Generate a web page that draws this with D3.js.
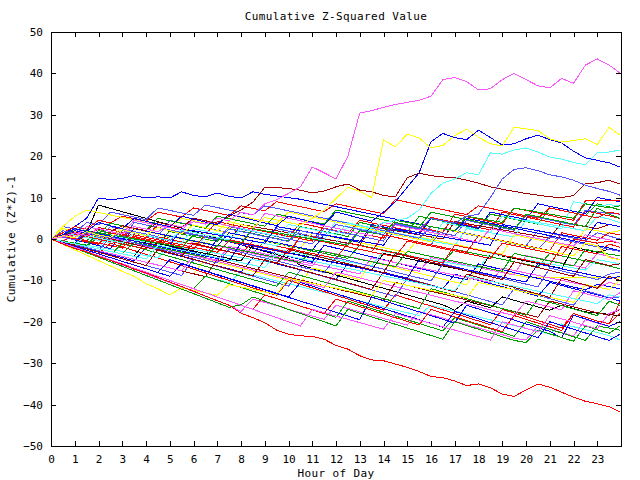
<!DOCTYPE html>
<html><head><meta charset="utf-8">
<script src="https://cdn.jsdelivr.net/npm/d3@7/dist/d3.min.js"></script>
<style>body{margin:0;background:#fff}svg{display:block}</style>
</head><body><svg id="c" width="640" height="480"></svg>
<script>
// ---- data ----
const hours = [0,0.5,1,1.5,2,2.5,3, 3.5,4,4.5,5,5.5,6,6.5, 7,7.5,8,8.5,9,9.5,10,
  10.5,11,11.5,12,12.5,13,13.5, 14,14.5,15,15.5,16,16.5,17, 17.5,18,18.5,19,19.5,20,20.5,
  21,21.5,22,22.5,23,23.5,23.95];
const xTickValues = [0,1,2,3,4,5,6,7,8,9,10,11,12,13,14,15,16,17,18,19,20,21,22,23];
const yTickValues = [-50,-40,-30,-20,-10,0,10,20,30,40,50];
const titleText = "Cumulative Z-Squared Value";
const xLabel = "Hour of Day";
const yLabel = "Cumulative (Z*Z)-1";

const RED="#ff0000", GRN="#00a000", BLU="#0000ff", MAG="#ff55ff", CYN="#55ffff",
      DKR="#a00000", YEL="#ffff00", BLK="#000000", PER="#5555ff";

// background series
const b1 = [0,-0.6,-1.2,-1.8,0.5,-0.1,-0.7, -1.3,-1.9,-2.5,0.8,0.2,-0.4,-1, -1.6,-2.2,-2.8,-3.4,-0.5,-1.1,-1.7, -2.3,-2.9,-3.5,-4.1,-4.7,-1.5,-2.1, -2.7,-3.3,-3.9,-4.5,-5.1,-5.7,-2.5, -3.1,-3.7,-4.3,-4.9,-5.5,-6.1,-6.7, -3.5,-4.1,-4.7,-5.3,-5.9,-6.5,-7.2];
const b2 = [0,-0.8,-1.5,-2.3,-3,-3.8,-4.5, -5.3,-2,-2.7,-3.5,-4.2,-5,-5.7, -6.5,-7.2,-8,-4.5,-5.2,-6,-6.7, -7.5,-8.2,-9,-9.7,-6,-6.8,-7.5, -8.3,-9,-9.8,-10.5,-11.3,-12,-8.5, -9.3,-10,-10.8,-11.5,-12.3,-13,-13.8, -10.5,-11.2,-12,-12.7,-13.5,-14.2,-15];
const b3 = [0,1.5,0.9,0.3,2.8,2.2,1.6, 1,0.4,3.5,2.9,2.3,1.7,1.1, 4.2,3.6,3,2.4,1.8,1.2,0.6, 3.8,3.2,2.6,2,1.4,4.5,3.9, 3.3,2.7,2.1,1.5,5.2,4.6,4, 3.4,2.8,2.2,6.5,5.9,5.3,4.7, 4.1,3.5,2.9,6.8,6.2,5.6,5];
const b4 = [0,-1,-2.1,-3.2,-4.2,-5.2,-6.3, -7.3,-8.4,-9.5,-10.5,-11.6,-12.7,-13.8, -14.9,-16,-17.5,-14.5,-15.3,-16.1,-17, -17.8,-18.6,-19.4,-16,-16.8,-17.6,-18.4, -19.2,-20,-20.8,-17.5,-18.3,-19.1,-19.9, -20.7,-21.5,-22.3,-23.1,-24,-24.4,-21, -21.8,-22.6,-23.4,-19.5,-20.3,-21.1,-20];
const b5 = [0,-0.7,-1.4,-2.1,-2.8,-3.5,-4.2, -4.9,-5.6,-6.3,-7,-7.7,-8.4,-9.1, -9.8,-10.5,-8,-8.7,-9.4,-10.1,-10.8, -11.5,-12.2,-12.9,-13.6,-14.3,-15,-15.7, -16.4,-17.1,-17.8,-18.5,-16,-16.7,-17.4, -18.1,-18.8,-19.5,-20.2,-20.9,-21.6,-22.3, -23,-20.5,-21.2,-21.9,-22.6,-23.3,-24.4];
const b6 = [0,0.5,1,1.5,8.2,7.4,6.6, 5.8,5,4.2,3.4,2.6,1.8,1, 0.2,-0.6,-1.4,-2.2,-3,-3.8,-4.6, -6.3,-7.1,-7.9,-8.7,-9.5,-10.3,-11.1, -11.9,-12.7,-13.5,-14.3,-15.1,-15.9,-17.2, -15,-15.8,-16.6,-14,-14.8,-15.6,-16.4, -17.2,-16,-16.8,-17.6,-17.9,-18.2,-18.6];
const b7 = [0,2,1.4,0.8,0.2,3,2.4, 1.8,1.2,0.6,4.5,3.9,3.3,2.7, 2.1,1.5,0.9,0.3,-0.3,2.5,1.9, 1.3,0.7,0.1,-0.5,-1.1,2.2,1.6, 1,0.4,-0.2,-0.8,-1.4,2.6,2, 1.4,0.8,0.2,-0.4,-1,-1.6,2, 1.4,0.8,0.2,-0.4,1.5,0.7,0];
const b8 = [0,-0.5,-1,1.5,1,0.5,0, -0.5,-1,-1.5,2,1.5,1,0.5, 0,-0.5,3.5,3,2.5,2,1.5, 1,0.5,0,-0.5,-1,-1.5,3, 2.5,2,1.5,1,0.5,0,4.2, 3.7,3.2,2.7,2.2,1.7,1.2,0.7, 0.2,4,3.5,3,2.5,3.5,3];
const b9 = [0,-0.7,-1.4,-2.1,-2.8,-3.5,-4.2, -4.9,-5.6,-6.3,-7,-7.7,-8.4,-5, -5.7,-6.4,-7.1,-7.8,-8.5,-9.2,-9.9, -10.6,-7,-7.7,-8.4,-9.1,-9.8,-5.5, -6.2,-6.9,-7.6,-8.3,-9,-9.7,-10.4, -11.1,-6.5,-7.2,-7.9,-8.6,-9.2,-9.2, -9.2,-9.2,-9.2,-9.2,-9.2,-9.2,-9.2];
const b10 = [0,0.8,0.2,-0.4,2,1.4,0.8, 0.2,-0.4,-1,1.8,1.2,0.6,0, -0.6,2.5,1.9,1.3,0.7,0.1,-0.5, 3,2.4,1.8,1.2,0.6,4,3.4, 2.8,2.2,1.6,5.5,4.9,4.3,3.7, 3.1,2.5,6,5.4,4.8,4.2,3.6, 7.5,6.9,6.3,5.7,8.5,7.8,7];
const b11 = [0,0.5,-0.2,-0.9,-1.6,-2.3,1, 0.3,-0.4,-1.1,-1.8,-2.5,-3.2,-3.9, 0,-0.7,-1.4,-2.1,-2.8,-3.5,-4.2, -4.9,-5.6,-1.5,-2.2,-2.9,-3.6,-4.3, -5,-5.7,-6.4,-7.1,-7.8,-8.5,-9.2, -9.9,-6,-6.7,-7.4,-8.1,-8.8,-9.5, -10.2,-10.9,-11.6,-12.3,-11,-11.5,-12];
const b12 = [0,-0.9,-1.8,-2.7,-3.6,-1,-1.9, -2.8,-3.7,-4.6,-5.5,-6.4,-7.3,-8.2, -9.1,-10,-10.9,-11.8,-12.7,-13.6,-10, -10.9,-11.8,-12.7,-13.6,-14.5,-15.4,-16.3, -17.2,-13.5,-14.4,-15.3,-16.2,-17.1,-18, -18.9,-19.8,-20.7,-17,-17.9,-18.8,-19.7, -20.6,-21.5,-18,-18.9,-19.8,-20.5,-15.2];
const b13 = [0,-0.6,1.8,1.2,0.6,0,-0.6, -1.2,-1.8,-2.4,-3,-3.6,-0.5,-1.1, -1.7,-2.3,-2.9,-3.5,-4.1,-4.7,-5.3, -5.9,-6.5,-3,-3.6,-4.2,-4.8,-5.4, -6,-6.6,-7.2,-7.8,-4.5,-5.1,-5.7, -6.3,-6.9,-7.5,-8.1,-8.7,-4,-4.6, -5.2,-5.8,-6.4,-7,-3.5,-4.2,-5];
const b14 = [0,-0.5,-1,-1.5,-2,0.8,0.3, -0.2,-0.7,-1.2,-1.7,-2.2,-2.7,0.5, 0,-0.5,-1,-1.5,-2,-2.5,-3, 0.5,0,-0.5,-1,3,2.5,2, 1.5,1,0.5,0,-0.5,-1,-1.5, 2.5,2,1.5,1,0.5,4.5,4, 3.5,3,2.5,2,5.5,4.8,4];
const b15 = [0,-0.6,-1.2,-1.8,-2.4,-3,-3.6, -4.2,-0.5,-1.1,-1.7,-2.3,-2.9,-3.5, -4.1,-4.7,-5.3,-1.5,-2.1,-2.7,-3.3, -3.9,-4.5,-5.1,-5.7,-6.3,-6.9,-7.5, -3.5,-4.1,-4.7,-5.3,-5.9,-6.5,-7.1, -7.7,-8.3,-3.5,-4.1,-4.7,-5.3,-5.9, -6.5,-7.1,-2,-2.6,-3.2,-2.5,-3];
const b16 = [0,-0.8,-1.6,-2.4,-3.2,-4,-4.8, -5.6,-6.4,-7.2,-8,-8.8,-5,-5.8, -6.6,-7.4,-8.2,-9,-9.8,-10.6,-11.4, -7.5,-8.3,-9.1,-9.9,-10.7,-11.5,-12.3, -13.1,-13.9,-9.5,-10.3,-11.1,-11.9,-12.7, -13.5,-14.3,-15.1,-15.9,-12,-12.8,-13.6, -14.4,-15.2,-16,-12.5,-13.3,-14.1,-14];
const b17 = [0,-0.7,-1.4,-2.1,-2.8,-3.5,-4.2, -4.9,-5.6,-6.3,-7,-7.7,-8.4,-9.1, -5,-5.7,-6.4,-7.1,-7.8,-8.5,-9.2, -9.9,-10.6,-11.3,-12,-12.7,-13.4,-14.1, -14.8,-10.5,-11.2,-11.9,-12.6,-13.3,-14, -14.7,-15.4,-16.1,-16.8,-17.5,-18.2,-18.9, -15,-15.7,-16.4,-17.1,-17.8,-18.5,-17];
const b18 = [0,2.5,1.9,1.3,0.7,0.1,3, 2.4,1.8,1.2,0.6,0,-0.6,-1.2, 2,1.4,0.8,0.2,-0.4,-1,-1.6, -2.2,1.5,0.9,0.3,-0.3,-0.9,-1.5, -2.1,-2.7,-3.3,0.5,-0.1,-0.7,-1.3, -1.9,-2.5,-3.1,-3.7,1,0.4,-0.2, -0.8,-1.4,-2,2.5,2,1.5,2];
const b19 = [0,-1,-2,-3,-4,-5,-6, -7,-8,-9,-10,-11,-12,-9, -9.9,-10.8,-11.7,-12.6,-13.5,-14.4,-15.3, -16.2,-17.1,-18,-18.9,-15,-15.9,-16.8, -17.7,-18.6,-19.5,-20.4,-21.3,-22.2,-19, -19.9,-20.8,-21.7,-22.6,-23.5,-20,-20.9, -21.8,-22.7,-23.6,-24.5,-21,-21.5,-22];
const b20 = [0,1,2,1.4,0.8,0.2,-0.4, 2.5,1.9,1.3,0.7,0.1,-0.5,-1.1, -1.7,1.5,0.9,0.3,-0.3,-0.9,-1.5, -2.1,-2.7,1,0.4,-0.2,-0.8,3.5, 2.9,2.3,1.7,1.1,5,4.4,3.8, 3.2,2.6,6.5,5.9,5.3,4.7,8.5, 7.9,7.3,6.7,6.1,10,9.5,9];
const b21 = [0,0.5,-0.1,-0.7,-1.3,1.5,0.9, 0.3,-0.3,-0.9,-1.5,-2.1,1.2,0.6, 0,-0.6,-1.2,2.5,1.9,1.3,0.7, 0.1,-0.5,3.2,2.6,2,1.4,0.8, 0.2,4,3.4,2.8,2.2,1.6,6, 5.4,4.8,4.2,3.6,7.5,6.9,6.3, 5.7,5.1,4.5,9.2,9.2,9.2,9.2];
const b22 = [0,-0.6,-1.2,1.5,0.9,0.3,-0.3, -0.9,-1.5,-2.1,-2.7,-3.3,-3.9,-4.5, -5.1,-1.8,-2.4,-3,-3.6,-4.2,-4.8, -5.4,-6,-6.6,-7.2,-7.8,-8.4,-4.5, -5.1,-5.7,-6.3,-6.9,-7.5,-8.1,-8.7, -9.3,-9.9,-10.5,-7,-7.6,-8.2,-8.8, -9.4,-10,-10.6,-11.2,-11.8,-10.5,-11];
const b23 = [0,-0.5,-1,-1.5,-2,-2.5,-3, -3.5,-4,-4.5,-1.5,-2,-2.5,-3, -3.5,-4,-4.5,-5,-5.5,-2.5,-3, -3.5,-4,-4.5,-5,-5.5,-6,-6.5, -3,-3.5,-4,-4.5,-5,-5.5,-6, -6.5,-7,-3.5,-4,-4.5,-5,-5.5, -6,-6.5,-7,-7.5,-5,-5.5,-6];
const b24 = [0,0.8,0.2,-0.4,-1,-1.6,-2.2, 1,0.4,-0.2,-0.8,-1.4,-2,-2.6, -3.2,-0.5,-1.1,-1.7,-2.3,-2.9,-3.5, 0.5,-0.1,-0.7,-1.3,-1.9,-2.5,-3.1, -3.7,-4.3,-0.5,-1.1,-1.7,-2.3,-2.9, -3.5,-4.1,-4.7,-1,-1.6,-2.2,-2.8, -3.4,-4,0,-0.5,-1,-0.5,-1];
const b25 = [0,3,2.4,1.8,1.2,0.6,0, 4,3.4,2.8,2.2,1.6,1,0.4, -0.2,3,2.4,1.8,1.2,0.6,0, -0.6,-1.2,2.5,1.9,1.3,0.7,0.1, -0.5,3.8,3.2,2.6,2,1.4,0.8, 4.5,3.9,3.3,2.7,2.1,5.8,5.2, 4.6,4,3.4,7,6.5,6.2,6];
const b26 = [0,-0.8,-1.6,-2.4,-3.2,-4,-1, -1.8,-2.6,-3.4,-4.2,-5,-5.8,-6.6, -7.4,-8.2,-9,-9.8,-10.6,-11.4,-8, -8.8,-9.6,-10.4,-11.2,-12,-12.8,-13.6, -14.4,-15.2,-16,-16.8,-12,-12.8,-13.6, -14.4,-15.2,-16,-16.8,-17.6,-18.4,-14.5, -15.3,-16.1,-16.9,-17.7,-18.5,-15,-16];
const b27 = [0,-0.9,-1.8,-2.7,-3.6,-4.5,-5.4, -6.3,-7.2,-8.1,-9,-6,-6.9,-7.8, -8.7,-9.6,-10.5,-11.4,-12.3,-13.2,-14.1, -15,-15.9,-16.8,-17.7,-18.6,-19.5,-14, -14.9,-15.8,-16.7,-17.6,-18.5,-19.4,-20.3, -16,-16.9,-17.8,-18.7,-19.6,-20.5,-21.4, -22.3,-23.9,-18.4,-19.3,-20.2,-21.1,-20];
const b28 = [0,-0.6,1.2,0.6,0,-0.6,-1.2, -1.8,-2.4,0.5,-0.1,-0.7,-1.3,-1.9, -2.5,-3.1,-3.7,-0.5,-1.1,-1.7,-2.3, -2.9,-3.5,-4.1,-4.7,-1,-1.6,-2.2, -2.8,-3.4,-4,-4.6,-5.2,-5.8,-1.5, -2.1,-2.7,-3.3,-3.9,-4.5,-5.1,-5.7, -6.3,-1.8,-2.4,-3,-3.6,-1.2,-2];
const b29 = [0,-0.7,-1.4,-2.1,-2.8,-3.5,-4.2, -4.9,-5.6,-6.3,-7,-7.7,-4,-4.7, -5.4,-6.1,-6.8,-7.5,-8.2,-8.9,-9.6, -10.3,-11,-11.7,-8,-8.7,-9.4,-10.1, -10.8,-11.5,-12.2,-12.9,-13.6,-14.3,-15, -15.7,-16.4,-17.1,-17.8,-18.5,-15,-15.7, -16.4,-17.1,-12.5,-13.2,-13.9,-14.6,-13];
const b30 = [0,1.5,0.9,0.3,-0.3,-0.9,2, 1.4,0.8,0.2,-0.4,-1,2.5,1.9, 1.3,0.7,0.1,-0.5,-1.1,-1.7,1.5, 0.9,0.3,-0.3,4.5,3.9,3.3,2.7, 2.1,1.5,0.9,0.3,-0.3,4,3.4, 2.8,2.2,1.6,5.5,4.9,4.3,3.7, 3.1,2.5,9,8.5,8,8.3,8];
const b31 = [0,1,3,5,9.9,9.5,9.8, 10.5,9.9,10.2,9.9,11.4,10.5,10.2, 11.1,10.3,9.9,11.4,10.8,10.4,10, 9.6,9,8.4,7.8,7.2,6.6,6, 5.4,4.8,4.2,3.6,3,2.4,1.8, 5,4.4,3.8,3.2,2.6,2,1.4, 0.8,0.2,-0.4,-1,-1.6,-2.2,-2.8];
const b32 = [0,-1,-2,-3,-4,-5,-6, -7,-8,-9,-10,-11,-12,-13, -14,-15,-16,-17,-13.5,-14.4,-15.3, -16.2,-17.1,-18,-14.5,-15.4,-16.3,-17.2, -18.1,-19,-19.9,-20.8,-17,-17.9,-18.8, -19.7,-20.6,-21.5,-22.4,-18.5,-19.4,-20.3, -21.2,-22.1,-18,-18.9,-19.8,-20.5,-18];
const b33 = [0,-1.3,-2.6,-3.9,-5.2,-6.5,-7.8, -9,-10.8,-12,-13.5,-11.8,-12.4,-13, -13.6,-11,-11.6,-12.2,-12.8,-13.4,-9.5, -10.1,-10.7,-11.3,-11.9,-12.5,-13.1,-13.7, -10,-10.6,-11.2,-11.8,-12.4,-13,-13.6, -14.2,-10.5,-11.1,-11.7,-12.3,-12.9,-13.5, -14.1,-14.7,-15.3,-11,-11.6,-12.2,-10];
const b34 = [0,-1.1,-2.2,-3.3,-4.4,-5.5,-6.6, -7.7,-8.8,-9.9,-11,-12.1,-13.2,-14.3, -15.4,-16.5,-15.9,-14,-15,-16,-17, -18,-19,-20,-21,-17,-17.9,-18.8, -19.7,-20.6,-21.5,-22.4,-23.3,-24.2,-20, -20.9,-21.8,-22.7,-23.6,-24.5,-25,-22, -22.9,-23.8,-24.7,-21,-21.9,-22.8,-21];
const b35 = [0,-0.5,-1,2,1.5,1,0.5, 0,-0.5,-1,-1.5,2.5,2,1.5, 1,0.5,0,-0.5,-1,3,2.5, 2,1.5,1,0.5,0,-0.5,-1, -1.5,2.5,2,1.5,1,0.5,0, -0.5,-1,-1.5,3.5,3,2.5,2, 1.5,1,0.5,0,4,3.5,3];
const b36 = [0,-0.6,-1.2,-1.8,-2.4,-3,-3.6, -0.8,-1.4,-2,-2.6,-3.2,-3.8,-4.4, -1.5,-2.1,-2.7,-3.3,-3.9,-4.5,-5.1, -5.7,-2.5,-3.1,-3.7,-4.3,-4.9,-5.5, -6.1,-6.7,-3,-3.6,-4.2,-4.8,-5.4, -6,-6.6,-7.2,-7.8,-3.5,-4.1,-4.7, -5.3,-5.9,-6.5,-2.5,-3.1,-3.7,-4];
const b37 = [0,0.6,0,-0.6,-1.2,1.8,1.2, 0.6,0,-0.6,-1.2,-1.8,-2.4,1, 0.4,-0.2,-0.8,-1.4,-2,-2.6,-3.2, 0.5,-0.1,-0.7,-1.3,-1.9,-2.5,-3.1, 1,0.4,-0.2,-0.8,-1.4,-2,-2.6, -3.2,0.8,0.2,-0.4,-1,-1.6,-2.2, -2.8,1.5,0.9,0.3,-0.3,1.5,1];
const b38 = [0,-0.7,-1.4,-2.1,-2.8,0.5,-0.2, -0.9,-1.6,-2.3,-3,-3.7,-4.4,-5.1, -5.8,-2.5,-3.2,-3.9,-4.6,-5.3,-6, -6.7,-7.4,-8.1,-4.5,-5.2,-5.9,-6.6, -7.3,-8,-8.7,-9.4,-10.1,-6,-6.7, -7.4,-8.1,-8.8,-9.5,-10.2,-10.9,-11.6, -7,-7.7,-8.4,-9.1,-9.8,-8.5,-8];
const b39 = [0,-0.8,-1.6,-2.4,-3.2,-4,-4.8, -5.6,-6.4,-2.5,-3.3,-4.1,-4.9,-5.7, -6.5,-7.3,-8.1,-8.9,-5,-5.8,-6.6, -7.4,-8.2,-9,-9.8,-10.6,-11.4,-12.2, -8,-8.8,-9.6,-10.4,-11.2,-12,-12.8, -8.5,-9.3,-10.1,-10.9,-11.7,-12.5,-13.3, -14.1,-9.5,-10.3,-11.1,-11.9,-9,-10];
const b40 = [0,0.5,2.5,1.9,1.3,0.7,0.1, -0.5,-1.1,-1.7,-2.3,-2.9,-3.5,-4.1, -4.7,-5.3,-1,-1.6,-2.2,-2.8,-3.4, -4,-4.6,-5.2,-5.8,-6.4,-7,-7.6, -8.2,-8.8,-9.4,-5,-5.6,-6.2,-6.8, -7.4,-8,-8.6,-9.2,-9.8,-10.4,-6, -6.6,-7.2,-7.8,-8.4,-9,-9.6,-9];
const b41 = [0,1.5,3,2.4,4.5,3.9,5.5, 4.9,4.3,6.5,5.9,5.3,7.5,6.9, 6.3,5.7,8,7.4,6.8,9,8.4, 7.8,7.2,6.6,8.5,7.9,7.3,6.7, 6.1,9.5,8.9,8.3,7.7,7.1,6.5, 5.9,8,7.4,6.8,6.2,5.6,5, 7.5,6.9,6.3,5.7,5.1,6.5,6];
const b42 = [0,2,1.4,4,3.4,6.5,5.9, 5.3,4.7,7.5,6.9,6.3,5.7,8.2, 7.6,7,6.4,5.8,8,7.4,6.8, 6.2,5.6,5,4.4,3.8,3.2,2.6, 2,1.4,0.8,0.2,3,2.4,1.8, 1.2,0.6,0,-0.6,-1.2,-1.8,-2.4, 0.5,-0.1,-0.7,-1.3,-1.9,-2.5,-3];
const b43 = [0,3,5.5,7,6.4,5.8,5.2, 4.6,4,3.4,2.8,5,4.4,3.8, 3.2,2.6,5.5,4.9,4.3,3.7,6.5, 5.9,5.3,4.7,4.1,3.5,2.9,2.3, 1.7,1.1,0.5,-0.1,-0.7,2.5,1.9, 1.3,0.7,0.1,-0.5,-1.1,-1.7,-2.3, -2.9,-3.5,-4.1,-1,-1.6,-4.5,-5];
const b44 = [0,0.6,2.5,1.9,1.3,3.8,3.2, 2.6,2,5,4.4,3.8,3.2,2.6, 5.5,4.9,4.3,3.7,3.1,6,5.4, 4.8,4.2,3.6,7,6.4,5.8,5.2, 4.6,4,3.4,2.8,6.5,5.9,5.3, 4.7,4.1,3.5,2.9,2.3,6,5.4, 4.8,4.2,3.6,3,7.5,6,5];
const b45 = [0,1,0.4,3,2.4,1.8,1.2, 4.5,3.9,3.3,2.7,2.1,5,4.4, 3.8,3.2,2.6,2,6.2,5.6,5, 4.4,3.8,3.2,2.6,2,1.4,0.8, 4,3.4,2.8,2.2,1.6,1,0.4, -0.2,-0.8,2.5,1.9,1.3,0.7,0.1, -0.5,-1.1,-1.7,1,0.4,-0.2,-1];
const b46 = [0,-0.7,-1.4,1.5,0.8,0.1,-0.6, -1.3,-2,-2.7,-3.4,-4.1,-1,-1.7, -2.4,-3.1,-3.8,-4.5,-5.2,-5.9,-2.5, -3.2,-3.9,-4.6,-5.3,-6,-6.7,-7.4, -8.1,-3.5,-4.2,-4.9,-5.6,-6.3,-7, -7.7,-8.4,-9.1,-9.8,-5.5,-6.2,-6.9, -7.6,-8.3,-9,-5,-5.7,-6.4,-6];
const b47 = [0,-0.9,-1.8,-2.7,-3.6,-4.5,-5.4, -6.3,-7.2,-8.1,-5,-5.9,-6.8,-7.7, -8.6,-9.5,-10.4,-11.3,-12.2,-13.1,-14, -10.5,-11.4,-12.3,-13.2,-14.1,-15,-15.9, -16.8,-17.7,-18.6,-19.5,-20.4,-21.3,-17.5, -18.4,-19.3,-20.2,-21.1,-22,-22.9,-23.8, -20,-20.9,-21.8,-22.7,-23.6,-24.5,-23];
const b48 = [0,-0.6,-1.2,-1.8,-2.4,-3,-3.6, -4.2,-4.8,-1.5,-2.1,-2.7,-3.3,-3.9, -4.5,-5.1,-5.7,-6.3,-6.9,-3.5,-4.1, -4.7,-5.3,-5.9,-6.5,-7.1,-7.7,-8.3, -8.9,-9.5,-10.1,-10.7,-11.3,-11.9,-12.5, -9,-9.6,-10.2,-10.8,-11.4,-12,-12.6, -13.2,-13.8,-14.4,-15,-15.6,-13.5,-14];
const b49 = [0,-1,-2,-3,-4,-5,-6, -7,-8,-9,-10,-11,-12,-13, -14,-15,-16,-17,-18,-19,-20, -21,-17,-17.8,-18.6,-19.4,-20.2,-21, -21.8,-18,-18.8,-19.6,-20.4,-21.2,-22, -22.8,-23.6,-24.4,-20,-20.8,-21.6,-22.4, -18.5,-19.3,-20.1,-20.9,-21.7,-18,-17];
const b50 = [0,-0.5,-1,-1.5,1.5,1,0.5, 0,-0.5,-1,-1.5,-2,1,0.5, 0,-0.5,-1,2.5,2,1.5,1, 0.5,0,-0.5,-1,-1.5,2,1.5, 1,4.5,4,3.5,3,2.5,2, 5.5,5,4.5,4,7.5,7,6.5, 6,5.5,5,8.5,8,7.5,8];

// prominent series
const magentaTop = [0,0.5,1.5,0.8,2.5,1.8,1.2, 3,2.4,1.8,3.5,2.9,4.2,3.6, 5,4.4,6.5,5.8,8.5,9.5,11, 12.6,17.4,16,14.5,20,30.4,31, 31.8,32.5,33,33.5,34.5,38.5,39, 38,36,36.3,38.5,40,38.5,37, 36.5,38.8,37.6,42,43.5,42,40.1];
const redBottom = [0,-1.2,-2.3,-3.1,-4.2,-5.2,-6.1, -7.3,-8.2,-9.3,-10.4,-11.5,-12.6,-13.8, -14.9,-16,-17.9,-19,-20.2,-22,-23, -23.4,-23.5,-24.2,-25.7,-26.6,-28.2,-29.2, -29.4,-30.2,-31,-32,-33.2,-33.5,-34.3, -35.4,-35,-35.9,-37.5,-38,-36.5,-35, -35.8,-37,-38.2,-39.2,-39.8,-40.5,-41.8];
const yellowHigh = [0,0.8,0.3,1.8,1,0.4,2.2, 1.5,0.8,2.8,2,1.3,3.4,2.7, 2,4.2,3.5,2.8,5.2,4.6,4, 3.4,5,7,9.8,12.5,11.5,10, 23.9,22.3,25.3,24.4,22,22.6,25, 26.5,24.6,23,22.5,27,26.6,26.2, 24.2,23.4,23.8,24.2,22.8,27,25.1];
const blueHigh = [0,1,2.5,1.8,4,3.2,2.5, 5,4.3,3.6,2.9,5.5,4.8,4.1, 3.4,6,5.3,4.6,3.9,3.2,5.5, 4.8,4.1,3.4,6.5,5.8,5,4.3, 6.5,9,12.5,16,23.5,25.5,24.5, 24,26.3,24.5,22.7,23,24.2,25.1, 24,23.2,21.2,19.6,19,18.4,17.4];
const cyanHigh = [0,-0.6,-1.2,0.8,0.2,-0.4,-1, 1.5,0.9,0.3,-0.3,2.2,1.6,1, 0.4,-0.2,2.5,1.9,1.3,0.7,3.5, 2.9,2.3,1.7,1.1,3.8,3.2,2.6, 4,4.5,5,7,11,13.5,14.5, 16,15.5,20.8,20.5,21.5,22,21, 19.8,19.3,18.5,17.9,20.8,21,21.5];
const periwinkleHigh = [0,0.5,-0.2,1.5,0.8,0.2,2, 1.4,0.8,0.2,-0.4,1.8,1.2,0.6, 0,2.4,1.8,1.2,0.6,0,-0.6, 2,1.4,0.8,3.5,2.9,2.3,1.7, 1.1,3.6,3,2.4,5,4.4,3.8, 5.5,6,10,14.5,16.8,17.2,16.5, 15.5,15,14.2,13,12.2,11.5,10.6];
const darkRedHigh = [0,0.8,1.6,1,2.4,1.8,3.2, 2.6,2,4,3.4,2.8,5,4.4, 3.8,5.5,7,8.9,12.5,12.4,12.2, 11.8,11.1,11.6,12.6,13.3,11.8,11.4, 10.5,10.2,14.8,15.9,15.3,15,14.8, 14.2,13.5,12.6,12,11.5,11,10.6, 10.2,10,10.5,13.3,13.6,14.2,13.3];

const seriesList = [
  {values:b1,color:GRN},{values:b2,color:BLU},{values:b3,color:RED},{values:b4,color:MAG},
  {values:b5,color:CYN},{values:b6,color:BLK},{values:b7,color:PER},{values:b8,color:DKR},
  {values:b9,color:YEL},{values:b10,color:GRN},{values:b11,color:BLU},{values:b12,color:RED},
  {values:b13,color:MAG},{values:b14,color:CYN},{values:b15,color:BLK},{values:b16,color:PER},
  {values:b17,color:DKR},{values:b18,color:YEL},{values:b19,color:GRN},{values:b20,color:BLU},
  {values:b21,color:RED},{values:b22,color:MAG},{values:b23,color:CYN},{values:b24,color:RED},
  {values:b25,color:PER},{values:b26,color:GRN},{values:b27,color:BLU},{values:b28,color:RED},
  {values:b29,color:MAG},{values:b30,color:CYN},{values:b31,color:BLU},{values:b32,color:RED},
  {values:b33,color:YEL},{values:b34,color:GRN},{values:b35,color:BLU},{values:b36,color:GRN},
  {values:b37,color:RED},{values:b38,color:PER},{values:b39,color:DKR},{values:b40,color:BLU},
  {values:b41,color:RED},{values:b42,color:PER},{values:b43,color:YEL},{values:b44,color:GRN},
  {values:b45,color:MAG},{values:b46,color:DKR},{values:b47,color:BLU},{values:b48,color:CYN},
  {values:b49,color:MAG},{values:b50,color:GRN},
  {values:darkRedHigh,color:DKR},{values:periwinkleHigh,color:PER},{values:cyanHigh,color:CYN},
  {values:blueHigh,color:BLU},{values:yellowHigh,color:YEL},{values:redBottom,color:RED},
  {values:magentaTop,color:MAG}
];

// ---- drawing ----
const PL=51,PR=621,PT=32,PB=446;
const svg=d3.select("#c");
const xS=d3.scaleLinear().domain([0,24]).range([PL,PR]);
const yS=d3.scaleLinear().domain([-50,50]).range([PB,PT]);
const FONT="'DejaVu Sans Mono','Liberation Mono',monospace";

svg.append("defs").append("clipPath").attr("id","pc")
  .append("rect").attr("x",PL).attr("y",PT).attr("width",PR-PL).attr("height",PB-PT);

const lineGen=d3.line().x((d,i)=>xS(hours[i])).y(d=>yS(d));
const gLines=svg.append("g").attr("clip-path","url(#pc)");
seriesList.forEach(s=>{
  gLines.append("path").attr("d",lineGen(s.values)).attr("fill","none")
   .attr("stroke",s.color).attr("stroke-width",1)
   .attr("shape-rendering","crispEdges");
});

// axes (ticks inward)
const gAx=svg.append("g").attr("shape-rendering","crispEdges");
const axB=d3.axisBottom(xS).tickValues(xTickValues).tickSize(-5).tickPadding(9).tickFormat(d3.format("d"));
const axT=d3.axisTop(xS).tickValues(xTickValues).tickSize(-5).tickFormat("");
const axL=d3.axisLeft(yS).tickValues(yTickValues).tickSize(-5).tickPadding(8).tickFormat(d3.format("d"));
const axR=d3.axisRight(yS).tickValues(yTickValues).tickSize(-5).tickFormat("");
gAx.append("g").attr("transform",`translate(0,${PB})`).call(axB);
gAx.append("g").attr("transform",`translate(0,${PT})`).call(axT);
gAx.append("g").attr("transform",`translate(${PL},0)`).call(axL);
gAx.append("g").attr("transform",`translate(${PR},0)`).call(axR);
gAx.selectAll("path.domain").attr("stroke","#000").attr("stroke-width",1);
gAx.selectAll(".tick line").attr("stroke","#000");
gAx.selectAll("text").attr("font-family",FONT).attr("font-size","11px").attr("fill","#000");

svg.append("text").attr("x",336).attr("y",20).attr("text-anchor","middle")
  .attr("font-family",FONT).attr("font-size","11px").attr("letter-spacing","0.4px").text(titleText);
svg.append("text").attr("x",336).attr("y",477).attr("text-anchor","middle")
  .attr("font-family",FONT).attr("font-size","11px").attr("letter-spacing","0.4px").text(xLabel);
svg.append("text").attr("transform","translate(15,239) rotate(-90)").attr("text-anchor","middle")
  .attr("font-family",FONT).attr("font-size","11px").attr("letter-spacing","0.4px").text(yLabel);
</script></body></html>
